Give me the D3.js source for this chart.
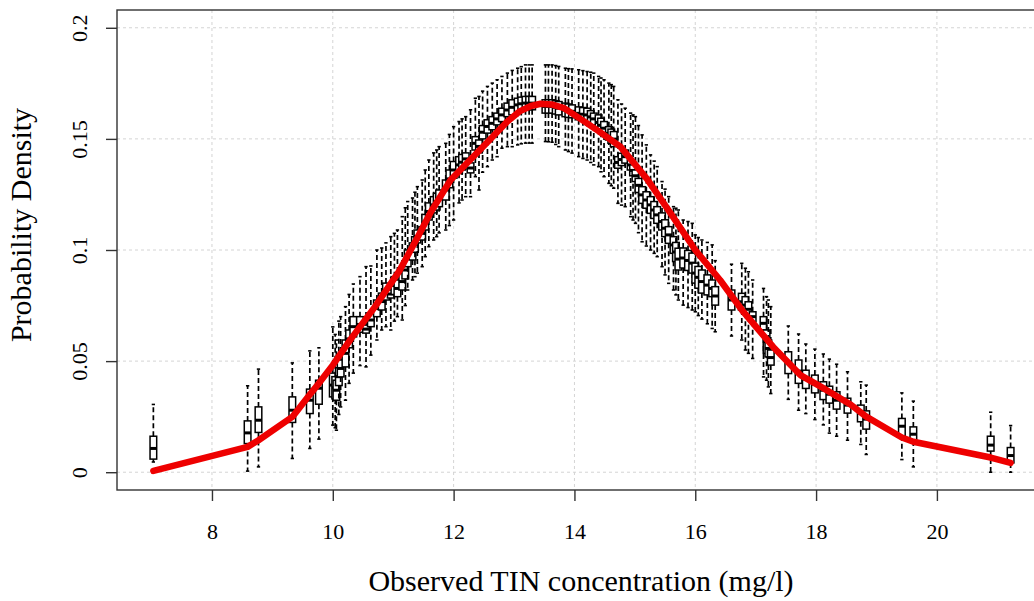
<!DOCTYPE html>
<html lang="en">
<head>
    <meta charset="UTF-8">
    <title>Probability Density of Observed TIN</title>
    <script src="https://d3js.org/d3.v7.min.js"></script>
    <style>
        body { margin: 0; background: #fff; }
        text { font-family: "Liberation Serif", "Times New Roman", serif; fill: #000; }
        .grid line { stroke: #d4d4d4; stroke-width: 1; stroke-dasharray: 3,3; }
        .axis line { stroke: #333; stroke-width: 1.4; }
        .axis path { display: none; }
        .axis text { font-size: 22px; }
        .whisker { stroke: #000; stroke-width: 1.7; stroke-dasharray: 5,3; }
        .staple { stroke: #000; stroke-width: 1.6; }
        .box { fill: #fff; stroke: #000; stroke-width: 1.5; }
        .median { stroke: #000; stroke-width: 3; }
    </style>
</head>
<body>
    <svg width="1034" height="601"></svg>

    <script>
        // observed TIN concentrations (box positions); last rows are extra boxes in the dense middle
        const tin = [7.03, 8.59, 8.77, 9.33, 9.62, 9.77,
            10.00, 10.06, 10.13, 10.21, 10.34, 10.55, 10.63, 10.73, 10.81, 10.88, 10.96, 11.07, 11.15, 11.24, 11.32, 11.40, 11.48, 11.59, 11.67, 11.76, 11.87,
            12.00, 12.09, 12.20, 12.28, 12.36, 12.42, 12.56, 12.64, 12.72, 12.80, 12.89, 12.97, 13.06, 13.19, 13.30,
            13.52, 13.63, 13.74, 13.85, 13.96, 14.07, 14.21, 14.32, 14.40, 14.49, 14.57, 14.65, 14.72, 14.84, 14.93, 15.01, 15.12, 15.26, 15.37, 15.45,
            15.56, 15.64, 15.72, 15.80, 15.95, 16.00, 16.11, 16.28, 16.33, 16.60, 16.77, 16.83, 16.88, 16.95, 17.13, 17.18, 17.21, 17.25,
            17.54, 17.71, 17.83, 17.98, 18.12, 18.22, 18.34, 18.52, 18.74, 18.83, 19.42, 19.61, 20.89, 21.22,
            10.04, 10.10, 10.27, 10.45, 11.02, 11.20, 11.36, 11.53, 11.72, 11.93, 12.14, 12.48, 13.12, 13.25, 13.57, 13.69,
            13.90, 14.14, 14.27, 14.44, 14.61, 14.78, 14.97, 15.06, 15.19, 15.32, 15.50, 15.68, 15.88, 16.05, 16.20];

        // boxplot statistics of the simulated densities
        const whiskerHigh = [0.0305, 0.0389, 0.0464, 0.0492, 0.0546, 0.0560,
            0.0654, 0.0595, 0.0700, 0.0745, 0.0847, 0.0925, 0.0928, 0.1000, 0.1009, 0.1032, 0.1060, 0.1090, 0.1150, 0.1218, 0.1234, 0.1285, 0.1315, 0.1405, 0.1437, 0.1465, 0.1480,
            0.1555, 0.1578, 0.1600, 0.1631, 0.1683, 0.1691, 0.1736, 0.1751, 0.1766, 0.1781, 0.1796, 0.1808, 0.1818, 0.1833, 0.1833,
            0.1833, 0.1833, 0.1826, 0.1818, 0.1815, 0.1811, 0.1803, 0.1796, 0.1781, 0.1766, 0.1751, 0.1736, 0.1676, 0.1638, 0.1616, 0.1600, 0.1518, 0.1428, 0.1375, 0.1308,
            0.1240, 0.1195, 0.1180, 0.1135, 0.1120, 0.1068, 0.1045, 0.1023, 0.0952, 0.0936, 0.0940, 0.0918, 0.0902, 0.0865, 0.0827, 0.0790, 0.0775, 0.0745,
            0.0658, 0.0622, 0.0577, 0.0554, 0.0532, 0.0509, 0.0486, 0.0452, 0.0407, 0.0392, 0.0357, 0.0320, 0.0270, 0.0210,
            0.0620, 0.0680, 0.0800, 0.0880, 0.1075, 0.1190, 0.1260, 0.1360, 0.1450, 0.1520, 0.1590, 0.1715, 0.1825, 0.1833, 0.1833, 0.1830,
            0.1816, 0.1807, 0.1800, 0.1774, 0.1744, 0.1657, 0.1608, 0.1560, 0.1473, 0.1400, 0.1274, 0.1188, 0.1128, 0.1056, 0.1034];
        const upperQ = [0.0162, 0.0231, 0.0294, 0.0339, 0.0374, 0.0414,
            0.0446, 0.0414, 0.0505, 0.0595, 0.0700, 0.0662, 0.0716, 0.0775, 0.0806, 0.0851, 0.0820, 0.0865, 0.0896, 0.1000, 0.1032, 0.1090, 0.1105, 0.1212, 0.1240, 0.1270, 0.1315,
            0.1398, 0.1420, 0.1437, 0.1392, 0.1510, 0.1495, 0.1586, 0.1600, 0.1616, 0.1638, 0.1661, 0.1676, 0.1683, 0.1691, 0.1691,
            0.1676, 0.1676, 0.1668, 0.1661, 0.1653, 0.1644, 0.1638, 0.1616, 0.1608, 0.1578, 0.1555, 0.1533, 0.1420, 0.1450, 0.1405, 0.1360, 0.1285, 0.1240, 0.1195, 0.1167,
            0.1105, 0.1060, 0.1008, 0.1009, 0.0986, 0.0941, 0.0910, 0.0865, 0.0835, 0.0820, 0.0805, 0.0790, 0.0767, 0.0722, 0.0700, 0.0640, 0.0595, 0.0550,
            0.0542, 0.0505, 0.0459, 0.0437, 0.0407, 0.0387, 0.0362, 0.0333, 0.0302, 0.0276, 0.0242, 0.0204, 0.0162, 0.0111,
            0.0430, 0.0470, 0.0640, 0.0700, 0.0880, 0.0950, 0.1060, 0.1160, 0.1255, 0.1360, 0.1430, 0.1560, 0.1688, 0.1691, 0.1676, 0.1672,
            0.1657, 0.1641, 0.1627, 0.1593, 0.1544, 0.1435, 0.1383, 0.1322, 0.1262, 0.1218, 0.1136, 0.1034, 0.0998, 0.0926, 0.0888];
        const median = [0.0107, 0.0177, 0.0234, 0.0279, 0.0324, 0.0378,
            0.0392, 0.0369, 0.0467, 0.0535, 0.0655, 0.0644, 0.0685, 0.0737, 0.0768, 0.0813, 0.0802, 0.0827, 0.0858, 0.0962, 0.0993, 0.1061, 0.1075, 0.1173, 0.1203, 0.1232, 0.1270,
            0.1360, 0.1383, 0.1410, 0.1369, 0.1480, 0.1466, 0.1556, 0.1570, 0.1590, 0.1608, 0.1630, 0.1642, 0.1653, 0.1661, 0.1661,
            0.1646, 0.1646, 0.1638, 0.1630, 0.1624, 0.1615, 0.1608, 0.1590, 0.1574, 0.1548, 0.1525, 0.1499, 0.1394, 0.1420, 0.1383, 0.1334, 0.1248, 0.1203, 0.1158, 0.1128,
            0.1068, 0.1023, 0.0959, 0.0964, 0.0941, 0.0896, 0.0858, 0.0827, 0.0793, 0.0775, 0.0767, 0.0752, 0.0733, 0.0700, 0.0670, 0.0587, 0.0557, 0.0516,
            0.0495, 0.0455, 0.0419, 0.0396, 0.0369, 0.0351, 0.0324, 0.0302, 0.0266, 0.0239, 0.0207, 0.0171, 0.0122, 0.0075,
            0.0380, 0.0430, 0.0600, 0.0665, 0.0840, 0.0910, 0.1025, 0.1125, 0.1218, 0.1320, 0.1395, 0.1530, 0.1658, 0.1661, 0.1646, 0.1642,
            0.1627, 0.1611, 0.1599, 0.1561, 0.1512, 0.1407, 0.1358, 0.1291, 0.1225, 0.1180, 0.1098, 0.0991, 0.0953, 0.0877, 0.0842];
        const lowerQ = [0.0059, 0.0129, 0.0179, 0.0224, 0.0264, 0.0306,
            0.0339, 0.0324, 0.0429, 0.0474, 0.0609, 0.0626, 0.0655, 0.0700, 0.0730, 0.0775, 0.0784, 0.0790, 0.0820, 0.0925, 0.0955, 0.1032, 0.1045, 0.1135, 0.1167, 0.1195, 0.1225,
            0.1323, 0.1345, 0.1383, 0.1347, 0.1450, 0.1437, 0.1526, 0.1541, 0.1563, 0.1578, 0.1600, 0.1608, 0.1623, 0.1631, 0.1631,
            0.1616, 0.1616, 0.1608, 0.1600, 0.1595, 0.1586, 0.1578, 0.1563, 0.1541, 0.1518, 0.1495, 0.1465, 0.1368, 0.1391, 0.1360, 0.1308, 0.1210, 0.1165, 0.1120, 0.1090,
            0.1030, 0.0985, 0.0910, 0.0919, 0.0896, 0.0851, 0.0806, 0.0790, 0.0752, 0.0730, 0.0730, 0.0715, 0.0700, 0.0677, 0.0640, 0.0535, 0.0519, 0.0482,
            0.0444, 0.0400, 0.0377, 0.0357, 0.0327, 0.0311, 0.0284, 0.0266, 0.0227, 0.0194, 0.0164, 0.0141, 0.0095, 0.0042,
            0.0330, 0.0390, 0.0560, 0.0630, 0.0800, 0.0870, 0.0990, 0.1090, 0.1180, 0.1280, 0.1360, 0.1500, 0.1628, 0.1631, 0.1616, 0.1612,
            0.1597, 0.1582, 0.1570, 0.1530, 0.1480, 0.1380, 0.1334, 0.1259, 0.1188, 0.1142, 0.1060, 0.0948, 0.0908, 0.0828, 0.0798];
        const whiskerLow = [0.0046, 0.0005, 0.0024, 0.0062, 0.0107, 0.0149,
            0.0212, 0.0189, 0.0294, 0.0324, 0.0446, 0.0474, 0.0527, 0.0595, 0.0640, 0.0655, 0.0640, 0.0700, 0.0685, 0.0820, 0.0865, 0.0896, 0.0925, 0.1015, 0.1045, 0.1077, 0.1090,
            0.1135, 0.1212, 0.1240, 0.1240, 0.1330, 0.1270, 0.1375, 0.1405, 0.1420, 0.1458, 0.1465, 0.1465, 0.1473, 0.1481, 0.1481,
            0.1488, 0.1485, 0.1465, 0.1450, 0.1436, 0.1420, 0.1405, 0.1383, 0.1375, 0.1330, 0.1300, 0.1278, 0.1210, 0.1195, 0.1150, 0.1120, 0.1037, 0.1000, 0.0970, 0.0925,
            0.0850, 0.0820, 0.0775, 0.0752, 0.0730, 0.0722, 0.0689, 0.0647, 0.0632, 0.0613, 0.0595, 0.0550, 0.0535, 0.0512, 0.0429, 0.0414, 0.0384, 0.0354,
            0.0328, 0.0279, 0.0264, 0.0237, 0.0213, 0.0176, 0.0162, 0.0144, 0.0125, 0.0080, 0.0057, 0.0024, 0.0000, 0.0000,
            0.0200, 0.0260, 0.0400, 0.0480, 0.0680, 0.0750, 0.0880, 0.0970, 0.1060, 0.1110, 0.1225, 0.1350, 0.1478, 0.1481, 0.1487, 0.1475,
            0.1443, 0.1412, 0.1394, 0.1352, 0.1289, 0.1202, 0.1135, 0.1078, 0.1018, 0.0985, 0.0888, 0.0798, 0.0741, 0.0705, 0.0668];

        // fitted density (red line), joined point to point
        const curveX = [7.03, 8.59, 8.77, 9.33, 9.62, 9.77, 10.00, 10.30, 10.70, 11.10, 11.40, 11.62, 11.95, 12.45, 12.89,
            13.10, 13.28, 13.44, 13.62, 13.83, 14.10, 14.40, 14.76, 15.20, 15.59, 16.00, 16.41, 16.80, 17.29, 17.74,
            18.07, 18.57, 18.83, 19.42, 19.61, 20.89, 21.22];
        const curveY = [0.0006, 0.0114, 0.0144, 0.0249, 0.0350, 0.0400, 0.0482, 0.0600, 0.0745, 0.0905, 0.1055, 0.1170, 0.1315, 0.1455, 0.1578,
            0.1625, 0.1648, 0.1658, 0.1655, 0.1638, 0.1590, 0.1535, 0.1465, 0.1320, 0.1166, 0.1000, 0.0865, 0.0720, 0.0564, 0.0437,
            0.0386, 0.0305, 0.0250, 0.0156, 0.0137, 0.0066, 0.0042];

        // axis ticks
        const xTicks = [8, 10, 12, 14, 16, 18, 20];
        const yTicks = [0, 0.05, 0.1, 0.15, 0.2];
        const yTickLabels = ["0", "0.05", "0.1", "0.15", "0.2"];

        const margin = { top: 10, right: -16, bottom: 111, left: 117 };
        const W = 1034, H = 601;
        const width = W - margin.left - margin.right;
        const height = H - margin.top - margin.bottom;

        const svg = d3.select("svg");
        const g = svg.append("g").attr("transform", `translate(${margin.left},${margin.top})`);

        // R style 4% padding around data range
        const x = d3.scaleLinear().domain([6.428, 21.872]).range([0, width]);
        const y = d3.scaleLinear().domain([-0.008, 0.208]).range([height, 0]);

        // grid
        const grid = g.append("g").attr("class", "grid");
        grid.selectAll(".gx").data(xTicks).enter().append("line")
            .attr("x1", d => x(d)).attr("x2", d => x(d))
            .attr("y1", 0).attr("y2", height);
        grid.selectAll(".gy").data(yTicks).enter().append("line")
            .attr("x1", 0).attr("x2", width)
            .attr("y1", d => y(d)).attr("y2", d => y(d));

        // boxplots, drawn left to right
        const boxW = x(6.428 + 0.11) - x(6.428);
        const stats = tin.map((t, i) => ({
            t, hi: whiskerHigh[i], q3: upperQ[i], med: median[i], q1: lowerQ[i], lo: whiskerLow[i]
        })).sort((a, b) => a.t - b.t);
        const boxes = g.selectAll(".bp").data(stats).enter().append("g").attr("class", "bp");
        boxes.append("line").attr("class", "whisker")
            .attr("x1", d => x(d.t)).attr("x2", d => x(d.t))
            .attr("y1", d => y(d.q3)).attr("y2", d => y(d.hi));
        boxes.append("line").attr("class", "whisker")
            .attr("x1", d => x(d.t)).attr("x2", d => x(d.t))
            .attr("y1", d => y(d.q1)).attr("y2", d => y(d.lo));
        boxes.append("line").attr("class", "staple")
            .attr("x1", d => x(d.t) - boxW / 4).attr("x2", d => x(d.t) + boxW / 4)
            .attr("y1", d => y(d.hi)).attr("y2", d => y(d.hi));
        boxes.append("line").attr("class", "staple")
            .attr("x1", d => x(d.t) - boxW / 4).attr("x2", d => x(d.t) + boxW / 4)
            .attr("y1", d => y(d.lo)).attr("y2", d => y(d.lo));
        boxes.append("rect").attr("class", "box")
            .attr("x", d => x(d.t) - boxW / 2).attr("width", boxW)
            .attr("y", d => y(d.q3)).attr("height", d => y(d.q1) - y(d.q3));
        boxes.append("line").attr("class", "median")
            .attr("x1", d => x(d.t) - boxW / 2).attr("x2", d => x(d.t) + boxW / 2)
            .attr("y1", d => y(d.med)).attr("y2", d => y(d.med));

        // red density line
        const line = d3.line().x(d => x(d[0])).y(d => y(d[1]));
        g.append("path")
            .datum(curveX.map((v, i) => [v, curveY[i]]))
            .attr("d", line)
            .attr("fill", "none")
            .attr("stroke", "#ee0000")
            .attr("stroke-width", 6.5)
            .attr("stroke-linejoin", "round")
            .attr("stroke-linecap", "round");

        // frame
        g.append("rect")
            .attr("width", width).attr("height", height)
            .attr("fill", "none").attr("stroke", "#333").attr("stroke-width", 1.4);

        // x axis
        g.append("g").attr("class", "axis")
            .attr("transform", `translate(0,${height})`)
            .call(d3.axisBottom(x).tickValues(xTicks).tickSize(11).tickPadding(22).tickFormat(d3.format("d")));

        // y axis, labels parallel to axis
        const yAxis = g.append("g").attr("class", "axis")
            .call(d3.axisLeft(y).tickValues(yTicks).tickSize(11).tickFormat((d, i) => yTickLabels[i]));
        yAxis.selectAll("text")
            .attr("transform", "rotate(-90)")
            .attr("x", 0).attr("y", -30).attr("dy", 0)
            .style("text-anchor", "middle");

        // axis titles
        svg.append("text")
            .attr("x", 581).attr("y", 591)
            .style("text-anchor", "middle")
            .style("font-size", "30px")
            .text("Observed TIN concentration (mg/l)");

        svg.append("text")
            .attr("transform", "translate(31,225) rotate(-90)")
            .style("text-anchor", "middle")
            .style("font-size", "30px")
            .text("Probability Density");
    </script>
</body>
</html>
